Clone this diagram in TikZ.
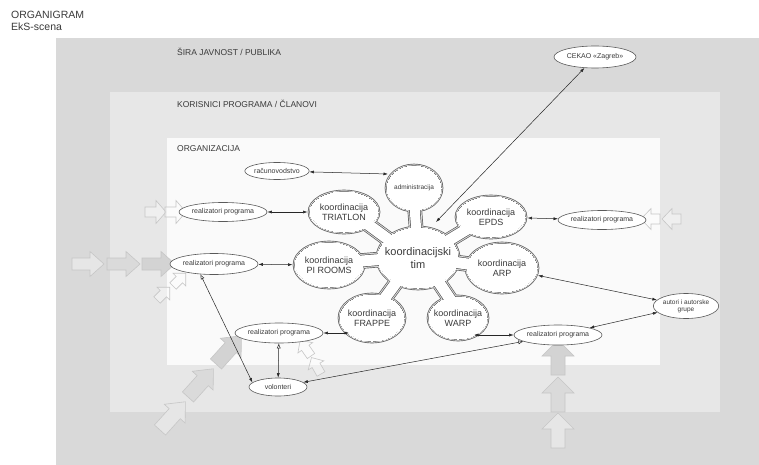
\documentclass[tikz,border=0pt]{standalone}
\usepackage{fontspec}
\setmainfont{Liberation Sans}
\usetikzlibrary{shapes.geometric,arrows.meta}
\definecolor{bgout}{HTML}{D9D9D9}
\definecolor{bgmid}{HTML}{E7E7E7}
\definecolor{bgin}{HTML}{FAFAFA}
\definecolor{ink}{HTML}{3A3A3A}
\definecolor{lin}{HTML}{5A5A5A}
\definecolor{gapc}{HTML}{E2E2E2}
\definecolor{arA}{HTML}{E6E6E6}
\definecolor{arB}{HTML}{DADADA}
\definecolor{arC}{HTML}{D3D3D3}
\definecolor{arL}{HTML}{C6C6C6}
% block arrow: tail x, tail y, angle, length, head length, head half width, shaft half width, style
\newcommand{\blk}[8]{\begin{scope}[shift={(#1,#2)},rotate=#3]
\draw[#8] (0,-#7) -- ({#4-#5},-#7) -- ({#4-#5},-#6) -- (#4,0) -- ({#4-#5},#6) -- ({#4-#5},#7) -- (0,#7) -- cycle;
\end{scope}}
% one layer of the flower-shaped coordination blob
\newcommand{\flowerlayer}[2]{%
\path[fill=#2,draw=#2,line width=#1]
 (418,258) ellipse [x radius=40, y radius=30]
 (414,188) ellipse [x radius=27, y radius=22]
 (344,212) ellipse [x radius=34, y radius=20]
 (491,217) ellipse [x radius=34, y radius=20]
 (329,265) ellipse [x radius=34, y radius=22]
 (502,268) ellipse [x radius=35, y radius=24]
 (372,318) ellipse [x radius=32, y radius=23]
 (458,318) ellipse [x radius=29, y radius=21];
\draw[#2,line width={10+#1}] (414,200) -- (417,240);
\draw[#2,line width={11+#1}] (362,220) -- (400,248);
\draw[#2,line width={11+#1}] (474,225) -- (436,248);
\draw[#2,line width={11+#1}] (350,262) -- (398,258);
\draw[#2,line width={11+#1}] (482,266) -- (438,260);
\draw[#2,line width={11+#1}] (382,302) -- (404,272);
\draw[#2,line width={11+#1}] (452,302) -- (432,272);
}
\begin{document}
\begin{tikzpicture}[x=1pt,y=-1pt,
 font=\fontsize{7}{8}\selectfont, text=ink,
 oval/.style={ellipse, draw=lin, fill=white, line width=0.6pt, inner sep=0pt, align=center},
 petal/.style={ellipse, inner sep=0pt, outer sep=2.5pt, align=center, font=\fontsize{9}{10}\selectfont},
 conn/.style={{Latex[length=4.5pt,width=3pt]}-{Latex[length=4.5pt,width=3pt]}, line width=0.5pt, draw=black!85},
 conno/.style={{Latex[open,length=5pt,width=4pt]}-{Latex[length=4.5pt,width=3pt]}, line width=0.5pt, draw=black!85},
 sect/.style={anchor=west, font=\fontsize{8.5}{9}\selectfont},
 bA/.style={fill=arA, draw=arL, line width=0.6pt},
 bB/.style={fill=arB, draw=arL, line width=0.6pt},
 bC/.style={fill=arC, draw=arL, line width=0.6pt},
 bH/.style={fill=white, fill opacity=0.35, draw=arL, line width=0.6pt}
]
\useasboundingbox (0,0) rectangle (759,465);
\fill[white] (0,0) rectangle (759,465);
% backgrounds
\fill[bgout] (56,38) rectangle (759,465);
\fill[bgmid] (110,92) rectangle (720,412);
\fill[bgin] (167,138) rectangle (660,365);
% titles
\node[anchor=west, font=\fontsize{10.5}{11}\selectfont, inner sep=0pt] (t1) at (11,14.5) {ORGANIGRAM};
\node[anchor=west, font=\fontsize{10.5}{11}\selectfont, inner sep=0pt] (t2) at (11,27) {EkS-scena};
\node[sect, inner sep=0pt] (s1) at (177,52) {ŠIRA JAVNOST / PUBLIKA};
\node[sect, inner sep=0pt] (s2) at (177,104) {KORISNICI PROGRAMA / ČLANOVI};
\node[sect, inner sep=0pt] (s3) at (177,149) {ORGANIZACIJA};
% block arrows
% left row
\blk{72}{264}{0}{32}{14}{12.5}{6}{bA}
\blk{107}{264}{0}{33}{14}{12.5}{6}{bB}
\blk{142}{264}{0}{33}{14}{12.5}{6}{bC}
% top-left pair
\blk{145}{212}{0}{21}{10}{11.5}{5}{bH}
\blk{165}{212}{0}{21}{10}{11.5}{5}{bH}
% small diagonal near left-mid
\blk{173}{286}{45}{18}{9}{9}{4.5}{bH}
\blk{157}{300}{45}{18}{9}{9}{4.5}{bH}
% right pair (pointing left)
\blk{660}{219}{180}{19}{10}{10.5}{5}{bH}
\blk{681}{219}{180}{19}{10}{10.5}{5}{bH}
% bottom-left big diagonal
\blk{160}{430}{48}{38}{16}{14}{7.5}{bA}
\blk{188}{397}{48}{38}{16}{14}{7.5}{bB}
\blk{216}{364}{48}{38}{16}{14}{7.5}{bC}
% small up-left near lower-left realizatori
\blk{311}{356}{125}{19}{9}{9}{4.5}{bH}
\blk{321}{374}{120}{19}{9}{9}{4.5}{bH}
% bottom-right vertical
\blk{558}{448}{90}{35}{16}{16}{7}{bA}
\blk{558}{412}{90}{35}{16}{16}{7}{bB}
\blk{558}{375}{90}{35}{16}{16}{7}{bC}
% flower
\flowerlayer{4.6}{lin}
\flowerlayer{3.2}{gapc}
\flowerlayer{1.4}{lin}
\flowerlayer{0}{white}
\node[font=\fontsize{11}{13}\selectfont, align=center] (tim) at (418,258) {koordinacijski\\tim};
\node[petal, minimum width=54, minimum height=44, font=\fontsize{6.5}{7}\selectfont] (adm) at (414,188) {administracija};
\node[petal, minimum width=68, minimum height=40] (triatlon) at (344,212) {koordinacija\\TRIATLON};
\node[petal, minimum width=68, minimum height=40] (epds) at (491,217) {koordinacija\\EPDS};
\node[petal, minimum width=68, minimum height=44] (pirooms) at (329,265) {koordinacija\\PI ROOMS};
\node[petal, minimum width=70, minimum height=48] (arp) at (502,268) {koordinacija\\ARP};
\node[petal, minimum width=64, minimum height=46] (frappe) at (372,318) {koordinacija\\FRAPPE};
\node[petal, minimum width=58, minimum height=42] (warp) at (458,318) {koordinacija\\WARP};
\coordinate (timN) at (436,222);
\coordinate (admW) at (388,174);
\coordinate (frappeW) at (349,333);
\coordinate (warpE) at (474,335);
% plain nodes
\node[oval, minimum width=82, minimum height=22] (cekao) at (595,57) {CEKAO «Zagreb»};
\node[oval, minimum width=64, minimum height=17] (racun) at (277,171) {računovodstvo};
\node[oval, minimum width=80, minimum height=19] (real1) at (223,212) {realizatori programa};
\node[oval, minimum width=79, minimum height=19] (realr) at (602,220) {realizatori programa};
\node[oval, minimum width=82, minimum height=21] (realm) at (214,264) {realizatori programa};
\node[oval, minimum width=79, minimum height=20] (realll) at (279,333) {realizatori programa};
\node[oval, minimum width=58, minimum height=18] (volon) at (278,387) {volonteri};
\node[oval, minimum width=80, minimum height=20] (reallr) at (558,335) {realizatori programa};
\node[oval, minimum width=60, minimum height=25, font=\fontsize{6.5}{7}\selectfont] (autori) at (686,306) {autori i autorske\\grupe};
% connectors
\draw[conn] (racun) -- (admW);
\draw[conn] (real1) -- (triatlon);
\draw[conn] (realm) -- (pirooms);
\draw[conn] (epds) -- (realr);
\draw[conn] (cekao) -- (timN);
\draw[conn] (arp) -- (autori);
\draw[conn] (reallr) -- (autori);
\draw[conn] (realll) -- (frappeW);
\draw[conn] (warpE) -- (reallr);
\draw[conno] (realll) -- (volon);
\draw[conno] (realm.217) -- (volon.170);
\draw[conno] (reallr) -- (volon);
\end{tikzpicture}
\end{document}
